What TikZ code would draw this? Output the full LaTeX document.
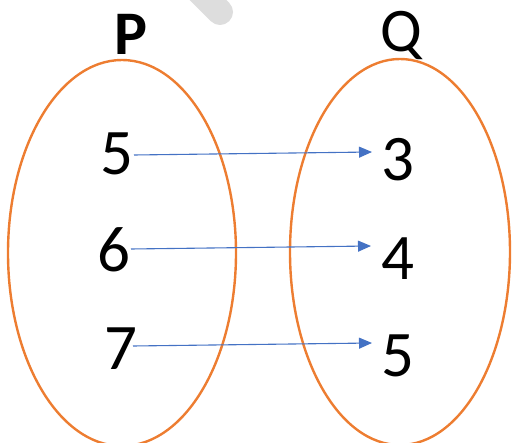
\documentclass[tikz,border=0pt]{standalone}
\usepackage{fontspec}
\setmainfont{Carlito}
\usetikzlibrary{arrows.meta}
\definecolor{setorange}{HTML}{ED7D31}
\definecolor{maparrow}{HTML}{4472C4}
\definecolor{wmgray}{HTML}{DDDDDD}
\begin{document}
\begin{tikzpicture}[x=1pt,y=-1pt,
  setline/.style={draw=setorange,line width=2.4pt},
  num/.style={inner sep=0pt,font=\fontsize{65}{65}\selectfont},
  ttl/.style={inner sep=0pt,anchor=base,font=\fontsize{62}{62}\selectfont},
  maparr/.style={draw=maparrow,line width=1.1pt,-{Triangle[length=13pt,width=11pt]}}]
\useasboundingbox (0,0) rectangle (512,443);
\begin{scope}
\clip (0,0) rectangle (512,443);
\draw[wmgray,line width=26pt,line cap=round] (190,-18) -- (220,12);
\draw[setline] (122,253) ellipse [x radius=114,y radius=193];
\draw[setline] (400,252) ellipse [x radius=110,y radius=193];
\end{scope}
\node[ttl,font=\fontsize{62}{62}\selectfont\bfseries] (P) at (131,55) {P};
\node[ttl] (Q) at (401,52) {Q};
\node[num] (p5) at (117,154) {5};
\node[num] (p6) at (114,250) {6};
\node[num] (p7) at (121,349) {7};
\node[num] (q3) at (398,160) {3};
\node[num] (q4) at (398,259) {4};
\node[num] (q5) at (398,356) {5};
\coordinate (s1) at (134,155);
\coordinate (e1) at (372,152);
\coordinate (s2) at (131,249);
\coordinate (e2) at (371,246);
\coordinate (s3) at (133,346);
\coordinate (e3) at (372,343);
\draw[maparr] (s1) -- (e1);
\draw[maparr] (s2) -- (e2);
\draw[maparr] (s3) -- (e3);
\end{tikzpicture}
\end{document}
